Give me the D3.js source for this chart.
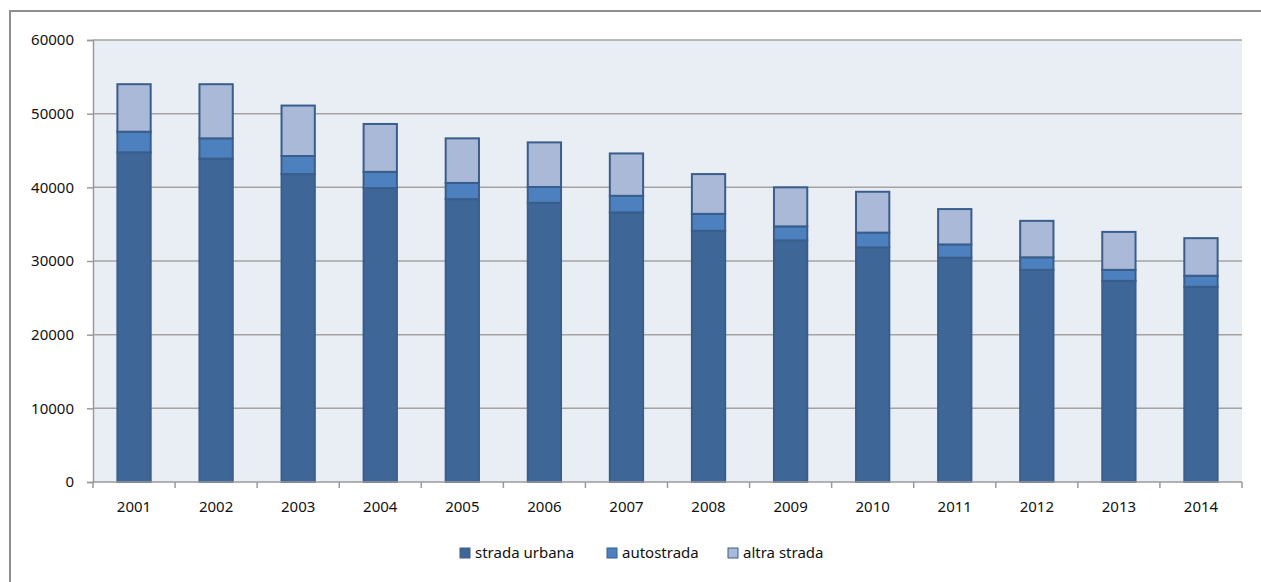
<!DOCTYPE html>
<html>
<head>
<meta charset="utf-8">
<script src="https://cdn.jsdelivr.net/npm/d3@7"></script>
<style>
  body { margin: 0; background: #fff; }
  svg { display: block; font-family: "Noto Sans", "Open Sans", sans-serif; }
</style>
</head>
<body>
<div id="chart"></div>
<script>
const years = ["2001", "2002", "2003", "2004", "2005", "2006", "2007",
  "2008", "2009", "2010", "2011", "2012", "2013", "2014"];
const stradaUrbana = [44750, 43900, 41800, 39900, 38400, 37900, 36600,
  34100, 32800, 31850, 30450, 28800, 27300, 26500];
const autostrada = [2800, 2750, 2450, 2200, 2200, 2150, 2250,
  2300, 1900, 2000, 1800, 1700, 1500, 1500];
const altraStrada = [6450, 7350, 6850, 6500, 6050, 6050, 5750,
  5400, 5300, 5550, 4800, 4950, 5150, 5100];
const yTicks = [0, 10000, 20000, 30000, 40000, 50000, 60000];
const seriesNames = ["strada urbana", "autostrada", "altra strada"];
const seriesColors = ["#3E6798", "#4D80BE", "#AAB9D7"];

const W = 1261, H = 582;
const plotL = 93, plotR = 1242, plotT = 40, plotB = 482;
const fs = 15;

const svg = d3.select("#chart").append("svg")
  .attr("width", W).attr("height", H);

// outer frame (only top & left visible)
svg.append("path")
  .attr("d", `M10,${H} L10,11 L${W},11`)
  .attr("fill", "none").attr("stroke", "#8E8E8E").attr("stroke-width", 2);

// plot background
svg.append("rect")
  .attr("x", plotL).attr("y", plotT)
  .attr("width", plotR - plotL).attr("height", plotB - plotT)
  .attr("fill", "#E9EDF4");

const x = d3.scaleBand().domain(years).range([plotL, plotR])
  .paddingInner(0.57).paddingOuter(0.285);
const y = d3.scaleLinear().domain([0, 60000]).range([plotB, plotT]);

// gridlines
svg.append("g").selectAll("line")
  .data(yTicks.filter(d => d > 0))
  .enter().append("line")
  .attr("x1", plotL).attr("x2", plotR)
  .attr("y1", d => y(d)).attr("y2", d => y(d))
  .attr("stroke", "#A3A3A3").attr("stroke-width", 1.5);

// left axis
const yAxis = svg.append("g")
  .attr("transform", `translate(${plotL},0)`)
  .call(d3.axisLeft(y).tickValues(yTicks).tickSize(6).tickPadding(13).tickFormat(d3.format("d")));
yAxis.select(".domain").attr("stroke", "#9A9A9A").attr("stroke-width", 1.5);
yAxis.selectAll(".tick line").attr("stroke", "#9A9A9A").attr("stroke-width", 1.5);
yAxis.selectAll("text").attr("font-size", fs).attr("fill", "#111")
  .attr("font-family", "'Noto Sans', sans-serif");

// stacked bars
const rows = years.map((yr, i) => ({
  year: yr,
  "strada urbana": stradaUrbana[i],
  "autostrada": autostrada[i],
  "altra strada": altraStrada[i]
}));
const stack = d3.stack().keys(seriesNames)(rows);

svg.append("g").selectAll("g")
  .data(stack)
  .enter().append("g")
  .attr("fill", (d, i) => seriesColors[i])
  .selectAll("rect")
  .data(d => d)
  .enter().append("rect")
  .attr("x", d => x(d.data.year) + 1)
  .attr("y", d => y(d[1]))
  .attr("width", x.bandwidth() - 2)
  .attr("height", d => y(d[0]) - y(d[1]))
  .attr("stroke", "#395E8C")
  .attr("stroke-width", 2);

// bottom axis: ticks at category boundaries
const xg = svg.append("g");
xg.append("line")
  .attr("x1", plotL).attr("x2", plotR)
  .attr("y1", plotB).attr("y2", plotB)
  .attr("stroke", "#9A9A9A").attr("stroke-width", 1.5);
const step = x.step();
const bounds = d3.range(years.length + 1).map(i => plotL + i * step);
xg.selectAll("line.tk").data(bounds).enter().append("line")
  .attr("class", "tk")
  .attr("x1", d => d).attr("x2", d => d)
  .attr("y1", plotB).attr("y2", plotB + 6)
  .attr("stroke", "#9A9A9A").attr("stroke-width", 1.5);
xg.selectAll("text").data(years).enter().append("text")
  .attr("x", d => x(d) + x.bandwidth() / 2)
  .attr("y", plotB + 30)
  .attr("text-anchor", "middle")
  .attr("font-size", fs).attr("fill", "#111")
  .text(d => d);

// legend
const legendX = [460, 607, 728];
const lg = svg.append("g");
seriesNames.forEach((name, i) => {
  lg.append("rect")
    .attr("x", legendX[i]).attr("y", 548)
    .attr("width", 10).attr("height", 10)
    .attr("fill", seriesColors[i])
    .attr("stroke", "#395E8C").attr("stroke-width", 1);
  lg.append("text")
    .attr("x", legendX[i] + 15).attr("y", 558)
    .attr("font-size", fs).attr("fill", "#111")
    .text(name);
});
</script>
</body>
</html>
